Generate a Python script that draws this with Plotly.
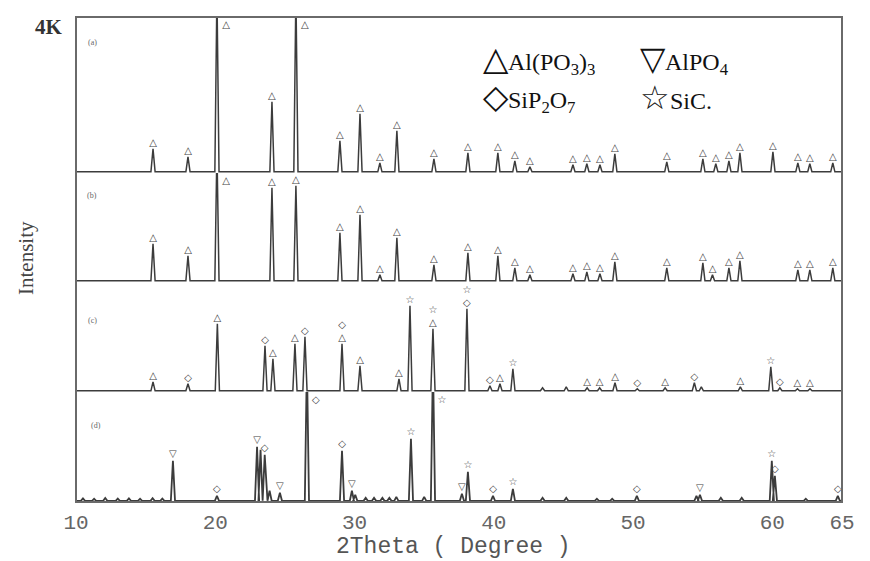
import plotly.graph_objects as go

# ---------------- data (2theta in degrees, intensity in counts) ----------------
# phase codes: A = Al(PO3)3 (triangle), P = AlPO4 (down triangle), S = SiP2O7 (diamond), C = SiC (star)
A_POS = [15.53, 18.04, 20.12, 24.07, 25.79, 28.95, 30.39, 31.82, 33.04, 35.70, 38.14, 40.29, 41.51,
         42.59, 45.68, 46.68, 47.62, 48.69, 52.42, 55.01, 55.94, 56.88, 57.67, 60.04, 61.83, 62.69, 64.34]
A_INT = [575, 375, 4500, 1750, 4500, 775, 1450, 225, 1025, 325, 475, 475, 275,
         125, 175, 200, 175, 450, 250, 325, 200, 275, 475, 500, 225, 200, 225]
A_PH = ["A"] * len(A_POS)

B_POS = [15.53, 18.04, 20.12, 24.07, 25.79, 28.95, 30.39, 31.82, 33.04, 35.70, 38.14, 40.29, 41.51,
         42.59, 45.68, 46.68, 47.62, 48.69, 52.42, 55.01, 55.70, 56.88, 57.67, 61.83, 62.69, 64.34]
B_INT = [925, 625, 3300, 2325, 2375, 1200, 1650, 150, 1075, 400, 700, 625, 325,
         150, 175, 225, 175, 475, 325, 450, 150, 325, 500, 275, 275, 325]
B_PH = ["A"] * len(B_POS)

C_POS = [15.53, 18.04, 20.15, 23.57, 24.14, 25.72, 26.44, 29.10, 30.39, 33.19, 33.98, 35.63, 38.07,
         39.72, 40.44, 41.37, 43.50, 45.20, 46.70, 47.60, 48.70, 50.30, 52.30, 54.40, 54.90, 57.70,
         59.89, 60.54, 61.80, 62.70]
C_INT = [225, 175, 1675, 1125, 800, 1175, 1350, 1175, 625, 300, 2125, 1550, 2050,
         125, 175, 550, 75, 100, 75, 75, 200, 50, 75, 200, 100, 100,
         600, 75, 50, 50]
C_PH = ["A", "S", "A", "S", "A", "A", "S", "S/A", "A", "A", "C", "C/A", "C/S",
        "S", "A", "C", "", "", "A", "A", "A", "S", "A", "S", "", "A",
        "C", "S", "A", "A"]

D_POS = [10.50, 11.30, 12.10, 13.00, 13.80, 14.60, 15.50, 16.20, 16.96, 20.12, 23.00, 23.25, 23.55,
         23.90, 24.64, 26.58, 29.10, 29.81, 30.05, 30.80, 31.40, 32.00, 32.50, 33.00, 34.05, 35.00,
         35.63, 37.71, 38.14, 39.94, 41.37, 43.50, 45.20, 47.40, 48.50, 50.27, 54.55, 54.80, 56.30,
         57.80, 59.96, 60.18, 62.40, 64.70]
D_INT = [60, 50, 70, 55, 60, 50, 65, 55, 1000, 125, 1350, 1275, 1150,
         250, 200, 3500, 1250, 250, 150, 75, 75, 75, 75, 100, 1550, 100,
         3500, 175, 725, 125, 300, 75, 75, 50, 50, 125, 125, 150, 75,
         75, 1000, 625, 50, 125]
D_PH = ["", "", "", "", "", "", "", "", "P", "S", "P", "", "S",
        "", "P", "S", "S", "P", "", "", "", "", "", "", "C", "",
        "C", "P", "C", "S", "C", "", "", "", "", "S", "", "P", "",
        "", "C", "S", "", "S"]

X_TICKS = [10, 20, 30, 40, 50, 60, 65]
PANEL_LABELS = ["(a)", "(b)", "(c)", "(d)"]

SYMBOL = {"A": "\u25B3", "P": "\u25BD", "S": "\u25C7", "C": "\u2606"}

# ---------------- layout geometry ----------------
PX_PER_COUNT = 1 / 25.0
panel_px = [156, 109, 110, 110]          # heights of panels a, b, c, d (px)
total_px = sum(panel_px)
tops = []
acc = 0
for h in reversed(panel_px):
    acc += h
    tops.append(acc / total_px)
tops = list(reversed(tops))               # upper domain edges a..d
domains = []
for i, h in enumerate(panel_px):
    domains.append([tops[i] - h / total_px, tops[i]])
ranges = [[-30, h / PX_PER_COUNT - 30] for h in panel_px]

LINE_COL = "#3c3c3c"
HALF_W = 0.15
MARK_FONT = dict(size=10, color="#444", family="DejaVu Sans")

fig = go.Figure()
panels = [(A_POS, A_INT, A_PH), (B_POS, B_INT, B_PH), (C_POS, C_INT, C_PH), (D_POS, D_INT, D_PH)]
for k, (pos, inten, ph) in enumerate(panels):
    yname = "y" if k == 0 else "y%d" % (k + 1)
    xs, ys = [10.0], [0]
    for p, h in sorted(zip(pos, inten)):
        xs += [p - HALF_W, p, p + HALF_W]
        ys += [0, h, 0]
    xs.append(65.0)
    ys.append(0)
    fig.add_trace(go.Scatter(x=xs, y=ys, mode="lines", yaxis=yname,
                             line=dict(color=LINE_COL, width=1.5 if k < 3 else 1.8),
                             hoverinfo="skip", showlegend=False))
    # phase markers
    top = ranges[k][1]
    tx, ty, tt, cx, cy, ct = [], [], [], [], [], []
    for p, h, code in zip(pos, inten, ph):
        if not code:
            continue
        label = "<br>".join(SYMBOL[c] for c in code.split("/"))
        if h >= top:
            cx.append(p + 0.65)
            cy.append(top - 220)
            ct.append(label)
        else:
            tx.append(p)
            ty.append(h + (40 if k == 3 else 0))
            tt.append(label)
    if tx:
        fig.add_trace(go.Scatter(x=tx, y=ty, text=tt, mode="text", yaxis=yname,
                                 textposition="top center", cliponaxis=False,
                                 textfont=MARK_FONT, hoverinfo="skip", showlegend=False))
    if cx:
        fig.add_trace(go.Scatter(x=cx, y=cy, text=ct, mode="text", yaxis=yname,
                                 textposition="middle center", cliponaxis=False,
                                 textfont=MARK_FONT, hoverinfo="skip", showlegend=False))

MONO = "Courier New, Liberation Mono, monospace"
SERIF = "Times New Roman, Liberation Serif, serif"

layout = dict(
    width=870, height=561,
    margin=dict(l=76, r=28, t=17, b=59),
    paper_bgcolor="white", plot_bgcolor="white",
    xaxis=dict(range=[10, 65], anchor="y4", tickvals=X_TICKS,
               ticktext=[str(v) for v in X_TICKS], ticks="",
               showgrid=False, zeroline=False, showline=False,
               tickfont=dict(family=MONO, size=21, color="#666"),
               ticklabelstandoff=5),
)
for k in range(4):
    key = "yaxis" if k == 0 else "yaxis%d" % (k + 1)
    layout[key] = dict(domain=domains[k], range=ranges[k], anchor="x",
                       showticklabels=False, showgrid=False, zeroline=False,
                       showline=False, ticks="")
fig.update_layout(**layout)

# frame
fig.add_shape(type="rect", xref="paper", yref="paper", x0=0, x1=1, y0=0, y1=1,
              line=dict(color="#6a6a6a", width=2))

def px_x(px):
    return (px - 76) / 766.0

def px_y(py):
    return (502 - py) / 485.0

# panel labels
for lab, (x, y) in zip(PANEL_LABELS, [(92, 42), (92, 195), (92, 320), (96, 425)]):
    fig.add_annotation(x=px_x(x), y=px_y(y), xref="paper", yref="paper", text=lab,
                       xanchor="center", yanchor="middle",
                       showarrow=False, font=dict(size=8, color="#666", family=SERIF))

# legend text
big = '<span style="font-size:33px">%s</span>'
leg = [
    (481, 60, big % "\u25B3" + "Al(PO<sub>3</sub>)<sub>3</sub>"),
    (638, 60, big % "\u25BD" + "AlPO<sub>4</sub>"),
    (481, 98, big % "\u25C7" + "SiP<sub>2</sub>O<sub>7</sub>"),
    (638, 98, big % "\u2606" + "SiC."),
]
for x, y, t in leg:
    fig.add_annotation(x=px_x(x), y=px_y(y), xref="paper", yref="paper", text=t,
                       xanchor="left", yanchor="middle", showarrow=False,
                       font=dict(size=24, color="#111", family=SERIF))

# axis texts
fig.add_annotation(x=px_x(49), y=px_y(27), xref="paper", yref="paper", text="<b>4K</b>",
                   xanchor="center", yanchor="middle",
                   showarrow=False, font=dict(size=21, color="#333", family=SERIF))
fig.add_annotation(x=px_x(26), y=px_y(258), xref="paper", yref="paper", text="Intensity",
                   xanchor="center", yanchor="middle",
                   textangle=-90, showarrow=False, font=dict(size=21, color="#444", family=SERIF))
fig.add_annotation(x=px_x(453), y=px_y(547), xref="paper", yref="paper",
                   xanchor="center", yanchor="middle",
                   text="2Theta ( Degree )", showarrow=False,
                   font=dict(size=23, color="#555", family=MONO))

fig.write_html("out.html")
